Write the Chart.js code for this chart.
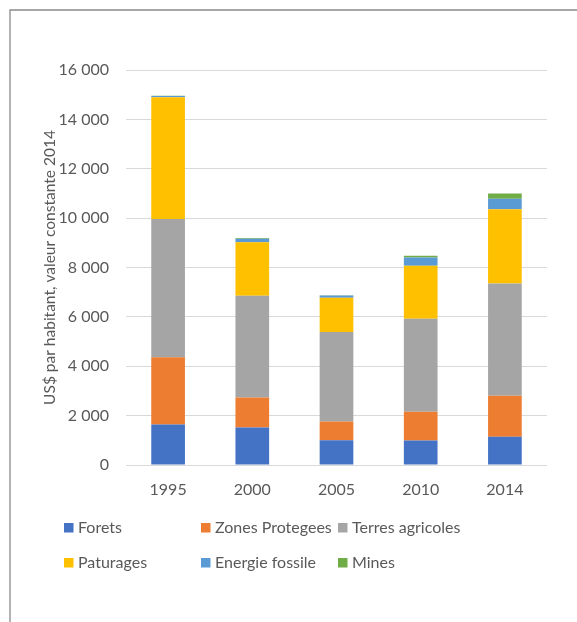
<!DOCTYPE html>
<html>
<head>
<meta charset="utf-8">
<script src="https://cdn.jsdelivr.net/npm/chart.js@4/dist/chart.umd.min.js"></script>
<style>
  html, body { margin: 0; padding: 0; background: #ffffff; }
  #wrap { position: relative; width: 577px; height: 622px; }
</style>
</head>
<body>
<div id="wrap"><canvas id="c" width="577" height="622"></canvas></div>
<script>
// Years on the category axis
const years = ['1995', '2000', '2005', '2010', '2014'];

// Value per inhabitant for each type of natural capital (US$, constant 2014)
const forets = [1640, 1520, 1000, 990, 1140];
const zonesProtegees = [2725, 1210, 760, 1170, 1670];
const terresAgricoles = [5600, 4130, 3630, 3760, 4540];
const paturages = [4930, 2165, 1380, 2150, 3010];
const energieFossile = [50, 140, 100, 340, 420];
const mines = [15, 25, 10, 70, 215];

// Value axis ticks
const yTicks = [0, 2000, 4000, 6000, 8000, 10000, 12000, 14000, 16000];

const seriesNames = ['Forets', 'Zones Protegees', 'Terres agricoles', 'Paturages', 'Energie fossile', 'Mines'];
const seriesData = [forets, zonesProtegees, terresAgricoles, paturages, energieFossile, mines];
const seriesColors = ['#4472C4', '#ED7D31', '#A5A5A5', '#FFC000', '#5B9BD5', '#70AD47'];

const textColor = '#595959';
const fontFamily = 'Lato, "Open Sans", sans-serif';

function spaced(v) {
  return String(v).replace(/\B(?=(\d{3})+(?!\d))/g, ' ');
}

// Thin frame along the top and left edges
const framePlugin = {
  id: 'frame',
  beforeDraw(chart) {
    const ctx = chart.ctx;
    ctx.save();
    ctx.strokeStyle = '#8a8a8a';
    ctx.lineWidth = 1.3;
    ctx.beginPath();
    ctx.moveTo(577, 10);
    ctx.lineTo(10, 10);
    ctx.lineTo(10, 622);
    ctx.stroke();
    ctx.restore();
  }
};

// Legend laid out in a three-column grid under the plot
const gridLegend = {
  id: 'gridLegend',
  afterDraw(chart) {
    const ctx = chart.ctx;
    const colX = [64, 201, 338];
    const rowY = [528, 563];
    ctx.save();
    ctx.font = '16px ' + fontFamily;
    ctx.textBaseline = 'middle';
    ctx.textAlign = 'left';
    chart.data.datasets.forEach((ds, i) => {
      const x = colX[i % 3];
      const y = rowY[Math.floor(i / 3)];
      ctx.fillStyle = ds.backgroundColor;
      ctx.fillRect(x, y - 5, 9.5, 9.5);
      ctx.fillStyle = textColor;
      ctx.fillText(ds.label, x + 14, y);
    });
    ctx.restore();
  }
};

new Chart(document.getElementById('c'), {
  type: 'bar',
  data: {
    labels: years,
    datasets: seriesNames.map((name, i) => ({
      label: name,
      data: seriesData[i],
      backgroundColor: seriesColors[i],
      borderWidth: 0,
      categoryPercentage: 0.8,
      barPercentage: 0.5
    }))
  },
  options: {
    responsive: false,
    animation: false,
    devicePixelRatio: 1,
    layout: { padding: { left: 10, top: 70, right: 30, bottom: 117 } },
    plugins: {
      legend: { display: false },
      tooltip: { enabled: false }
    },
    scales: {
      x: {
        stacked: true,
        grid: { display: false, drawTicks: false },
        border: { display: false },
        ticks: {
          color: textColor,
          font: { family: fontFamily, size: 16 },
          padding: 15
        },
        afterFit(scale) { scale.height = 40; }
      },
      y: {
        stacked: true,
        min: 0,
        max: 16000,
        afterBuildTicks(scale) { scale.ticks = yTicks.map(v => ({ value: v })); },
        grid: { color: '#d9d9d9', lineWidth: 1, drawTicks: false },
        border: { display: false },
        ticks: {
          color: textColor,
          font: { family: fontFamily, size: 16 },
          padding: 17,
          callback: v => spaced(v)
        },
        title: {
          display: true,
          text: 'US$ par habitant, valeur constante 2014',
          color: textColor,
          font: { family: fontFamily, size: 15.5 },
          padding: { top: 31, bottom: 0 }
        },
        afterFit(scale) { scale.width = 116; }
      }
    }
  },
  plugins: [framePlugin, gridLegend]
});
</script>
</body>
</html>
